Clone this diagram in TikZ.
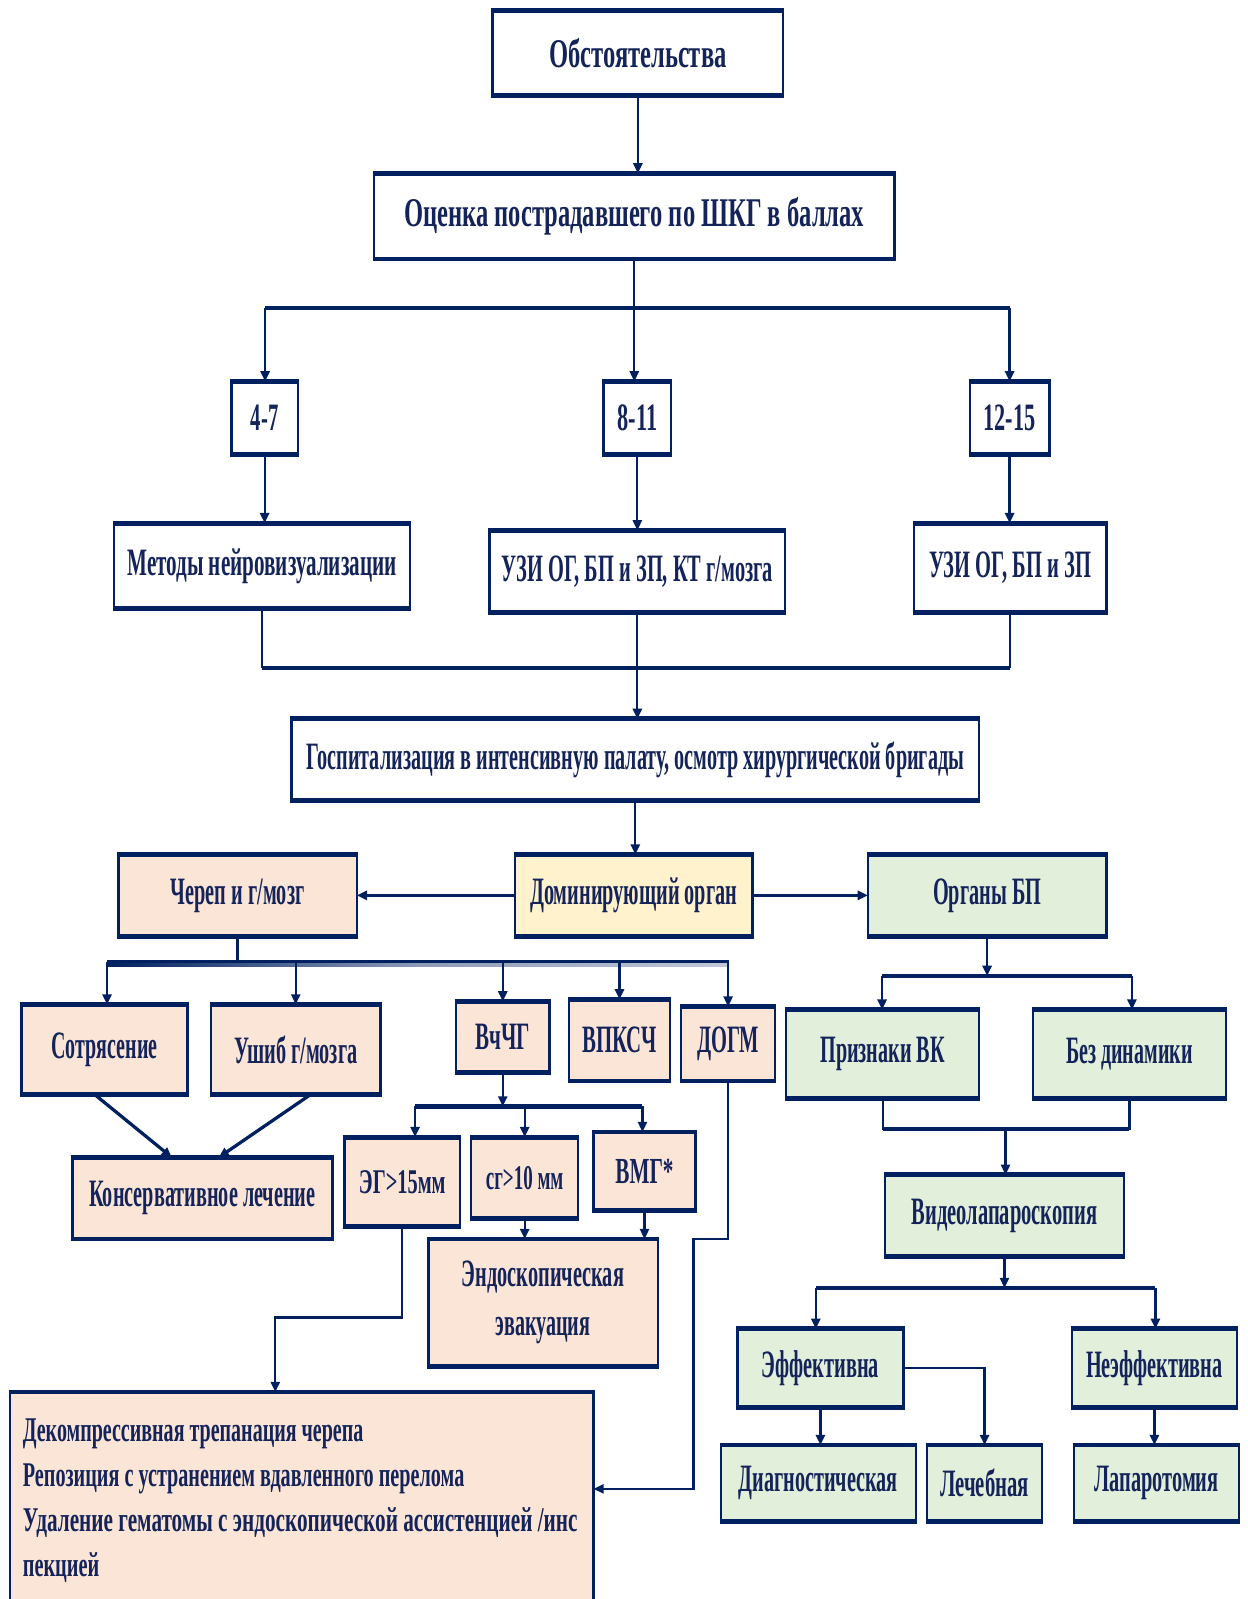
\documentclass[tikz,border=0pt]{standalone}
\usepackage{fontspec}
\setmainfont{Liberation Serif}
\usepackage{graphicx}
\usetikzlibrary{arrows.meta,calc}
\definecolor{dnavy}{HTML}{002060}
\definecolor{txt}{HTML}{14245A}
\definecolor{peach}{HTML}{FBE5D6}
\definecolor{ylw}{HTML}{FFF2CC}
\definecolor{grn}{HTML}{E2EFDA}
\newlength\mytwlen
\newcommand\tw[2]{\setlength{\mytwlen}{#1pt}\setlength{\mytwlen}{0.5\mytwlen}\resizebox{\mytwlen}{\height}{#2}}
\newcommand\bx[7]{\node[bx,fill=#6,minimum width={(#4-#2)*0.5pt},minimum height={(#5-#3)*0.5pt}] (#1) at ({(#2+#4)/2},{(#3+#5)/2}) {#7};}
\begin{document}
\begin{tikzpicture}[x=0.5pt,y=-0.5pt,
 bx/.style={draw=dnavy,line width=1.2pt,outer sep=0pt,inner sep=0pt,text=txt,align=center,font=\fontsize{19}{24}\selectfont\bfseries,
   append after command={(\tikzlastnode.north west) edge[tb] (\tikzlastnode.north east) (\tikzlastnode.south west) edge[tb] (\tikzlastnode.south east)}},
 tb/.style={draw=dnavy,line width=2.4pt,-,shorten <=-0.6pt,shorten >=-0.6pt},
 conn/.style={draw=dnavy,line width=1.1pt},
 thk/.style={draw=dnavy,line width=1.6pt},
 bus/.style={draw=dnavy,line width=2.2pt},
 arr/.style={-{Triangle[width=4.5pt,length=5pt]}}]
\useasboundingbox (0,0) rectangle (1223,1568);
\fill[white] (0,0) rectangle (1223,1568);
% top
\bx{n1}{483}{10}{768}{94}{white}{\fontsize{20}{24}\selectfont\tw{174}{Обстоятельства}}
\bx{n2}{367}{170}{877}{254}{white}{\fontsize{20}{24}\selectfont\tw{451}{Оценка пострадавшего по ШКГ в баллах}}
\bx{g1}{227}{374}{292}{446}{white}{\tw{27}{4-7}}
\bx{g2}{592}{374}{658}{446}{white}{\tw{39}{8-11}}
\bx{g3}{951}{374}{1029}{446}{white}{\tw{51}{12-15}}
\bx{m1}{112}{513}{402}{597}{white}{\tw{264}{Методы нейровизуализации}}
\bx{m2}{480}{520}{770}{601}{white}{\tw{266}{УЗИ ОГ, БП и ЗП, КТ г/мозга}}
\bx{m3}{896}{513}{1085}{601}{white}{\tw{159}{УЗИ ОГ, БП и ЗП}}
\bx{hosp}{286}{705}{960}{785}{white}{\tw{645}{Госпитализация в интенсивную палату, осмотр хирургической бригады}}
% middle
\bx{skull}{116}{838}{350}{918}{peach}{\tw{131}{Череп и г/мозг}}
\bx{dom}{505}{838}{738}{918}{ylw}{\tw{203}{Доминирующий орган}}
\bx{abd}{851}{838}{1085}{918}{grn}{\tw{106}{Органы БП}}
\bx{c1}{21}{985}{184}{1073}{peach}{\tw{104}{Сотрясение}}
\bx{c2}{207}{985}{373}{1073}{peach}{\tw{121}{Ушиб г/мозга}}
\bx{c3}{447}{982}{539}{1052}{peach}{\tw{53}{ВчЧГ}}
\bx{c4}{558}{980}{657}{1060}{peach}{\tw{73}{ВПКСЧ}}
\bx{c5}{668}{987}{760}{1060}{peach}{\tw{61}{ДОГМ}}
\bx{cons}{71}{1135}{326}{1215}{peach}{\tw{222}{Консервативное лечение}}
\bx{e1}{338}{1115}{451}{1203}{peach}{\fontsize{17}{20}\selectfont\tw{85}{ЭГ>15мм}}
\bx{e2}{462}{1115}{567}{1195}{peach}{\fontsize{17}{20}\selectfont\tw{76}{сг>10 мм}}
\bx{e3}{582}{1110}{682}{1187}{peach}{\fontsize{18}{20}\selectfont\tw{57}{ВМГ*}}
\bx{endo}{420}{1215}{645}{1340}{peach}{\tw{159}{Эндоскопическая}\\[0pt]\tw{93}{эвакуация}}
\bx{dec}{10}{1365}{582}{1660}{peach}{}
\node[anchor=north west,align=left,inner sep=0pt,text=txt,font=\fontsize{17}{22}\selectfont\bfseries] (dtext) at (22,1391)
 {\tw{334}{Декомпрессивная трепанация черепа}\\
  \tw{433}{Репозиция с устранением вдавленного перелома}\\
  \tw{544}{Удаление гематомы с эндоскопической ассистенцией /инс}\\
  \tw{75}{пекцией}};
% right
\bx{p1}{771}{990}{960}{1077}{grn}{\tw{122}{Признаки ВК}}
\bx{p2}{1013}{990}{1202}{1077}{grn}{\tw{124}{Без динамики}}
\bx{video}{868}{1152}{1102}{1232}{grn}{\tw{182}{Видеолапароскопия}}
\bx{ef}{723}{1303}{886}{1380}{grn}{\tw{115}{Эффективна}}
\bx{nef}{1051}{1303}{1213}{1380}{grn}{\tw{134}{Неэффективна}}
\bx{d1}{707}{1417}{898}{1492}{grn}{\tw{156}{Диагностическая}}
\bx{d2}{909}{1417}{1022}{1492}{grn}{\tw{87}{Лечебная}}
\bx{d3}{1053}{1417}{1215}{1492}{grn}{\tw{122}{Лапаротомия}}
% coordinates
\coordinate (b1l) at (260,302);
\coordinate (b1r) at (990,302);
\coordinate (j1l) at (257,655);
\coordinate (j1r) at (990,655);
\coordinate (b2l) at (105,943);
\coordinate (b2r) at (715,943);
\coordinate (b3l) at (407,1085);
\coordinate (b3r) at (630,1085);
\coordinate (k1) at (270,1292);
\coordinate (k2) at (680,1215);
\coordinate (k3) at (680,1460);
\coordinate (b4l) at (865,957);
\coordinate (b4r) at (1110,957);
\coordinate (j2) at (986,1107);
\coordinate (b5l) at (800,1263);
\coordinate (b5r) at (1133,1263);
% connectors top
\draw[conn,arr] (n1.south) -- (n1.south |- n2.north);
\draw[conn,arr] (n2.south) -- (n2.south |- g2.north);
\draw[bus] (b1l) -- (b1r);
\draw[conn,arr] (b1l) -- (b1l |- g1.north);
\draw[conn,arr] (b1r) -- (b1r |- g3.north);
\draw[conn,arr] (g1.south) -- (g1.south |- m1.north);
\draw[conn,arr] (g2.south) -- (g2.south |- m2.north);
\draw[conn,arr] (g3.south) -- (g3.south |- m3.north);
\draw[conn] (m1.south) -- (m1.south |- j1l);
\draw[conn] (m3.south) -- (m3.south |- j1r);
\draw[bus] (j1l) -- (j1r);
\draw[conn,arr] (m2.south) -- (m2.south |- hosp.north);
\draw[conn,arr] (hosp.south) -- (hosp.south |- dom.north);
\draw[thk,arr] (dom.west) -- (skull.east);
\draw[thk,arr] (dom.east) -- (abd.west);
% skull branch
\draw[conn] (skull.south) -- (skull.south |- b2l);
\shade[left color=dnavy,right color=dnavy!25,middle color=dnavy!45] (105,943) rectangle (715,948);
\draw[draw=dnavy,line width=1.3pt] (b2l) -- (b2r);
\draw[conn,arr] (b2l) -- (b2l |- c1.north);
\draw[conn,arr] (c2.north |- b2l) -- (c2.north);
\draw[conn,arr] (c3.north |- b2l) -- (c3.north);
\draw[conn,arr] (c4.north |- b2l) -- (c4.north);
\draw[conn,arr] (c5.north |- b2l) -- (c5.north);
\draw[thk,arr] ($(c1.south)+(-10,0)$) -- ($(cons.north)+(-30,0)$);
\draw[thk,arr] ($(c2.south)+(15,0)$) -- ($(cons.north)+(16,0)$);
\draw[conn,arr] (c3.south) -- (c3.south |- b3l);
\draw[bus] (b3l) -- (b3r);
\draw[conn,arr] (b3l) -- (b3l |- e1.north);
\draw[conn,arr] (e2.north |- b3l) -- (e2.north);
\draw[conn,arr] (b3r) -- (b3r |- e3.north);
\draw[conn,arr] (e2.south) -- (e2.south |- endo.north);
\draw[conn,arr] (e3.south) -- (e3.south |- endo.north);
\draw[conn,arr] (e1.south) |- (k1) -- (k1 |- dec.north);
\draw[conn,arr] (c5.south) |- (k2) -- (k3) -- (k3 -| dec.east);
% abdomen branch
\draw[conn,arr] (abd.south) -- (abd.south |- b4l);
\draw[bus] (b4l) -- (b4r);
\draw[conn,arr] (b4l) -- (b4l |- p1.north);
\draw[conn,arr] (b4r) -- (b4r |- p2.north);
\draw[conn] (p1.south) |- (j2) -| (p2.south);
\draw[bus] (p1.south |- j2) -- (p2.south |- j2);
\draw[conn,arr] (j2) -- (j2 |- video.north);
\draw[conn,arr] (video.south) -- (video.south |- b5l);
\draw[bus] (b5l) -- (b5r);
\draw[conn,arr] (b5l) -- (b5l |- ef.north);
\draw[conn,arr] (b5r) -- (b5r |- nef.north);
\draw[conn,arr] (ef.south) -- (ef.south |- d1.north);
\draw[conn,arr] (ef.east) -| (d2.north);
\draw[conn,arr] (nef.south) -- (nef.south |- d3.north);
\end{tikzpicture}
\end{document}
